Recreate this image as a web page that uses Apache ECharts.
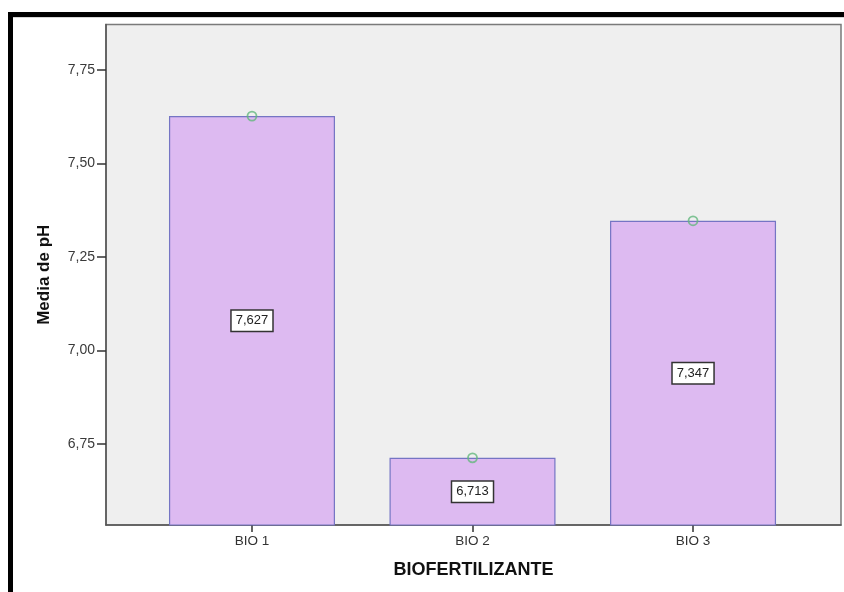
<!DOCTYPE html>
<html>
<head>
<meta charset="utf-8">
<script src="https://cdn.jsdelivr.net/npm/echarts@6/dist/echarts.min.js"></script>
<style>
  html, body { margin: 0; padding: 0; background: #fff; }
  #chart { width: 844px; height: 592px; }
</style>
</head>
<body>
<div id="chart"></div>
<script>
// Mean soil pH per biofertilizer treatment
const categories = ['BIO 1', 'BIO 2', 'BIO 3'];
const meanPH = [7.627, 6.713, 7.347];
const yTicks = [6.75, 7.00, 7.25, 7.50, 7.75];

const comma = (v, d) => v.toFixed(d).replace('.', ',');
const positions = categories.map((_, i) => i);
const barData = meanPH.map((v, i) => [positions[i], v]);

const chart = echarts.init(document.getElementById('chart'), null, { renderer: 'canvas' });

chart.setOption({
  animation: false,
  backgroundColor: '#ffffff',
  graphic: [
    // outer frame (top and left rules)
    { type: 'rect', shape: { x: 8, y: 12, width: 836, height: 5 }, style: { fill: '#000' }, z: 100 },
    { type: 'rect', shape: { x: 8, y: 12, width: 5, height: 580 }, style: { fill: '#000' }, z: 100 },
    { type: 'rect', shape: { x: 13, y: 17, width: 831, height: 1 }, style: { fill: '#d5d5d5' }, z: 100 }
  ],
  grid: {
    left: 106, top: 24.5, right: 3, bottom: 67,
    show: true,
    backgroundColor: '#efefef',
    borderColor: '#7a7a7a',
    borderWidth: 1.5
  },
  xAxis: {
    type: 'value',
    min: -0.662,
    max: 2.671,
    name: 'BIOFERTILIZANTE',
    nameLocation: 'middle',
    nameGap: 36,
    nameTextStyle: { fontFamily: 'Liberation Sans, Arial', fontWeight: 'bold', fontSize: 18, color: '#111' },
    axisLine: { show: true, onZero: false, lineStyle: { color: '#555', width: 1.5 } },
    axisTick: { show: true, customValues: positions, length: 7, lineStyle: { color: '#333', width: 1.5 } },
    axisLabel: {
      customValues: positions,
      formatter: v => categories[Math.round(v)] || '',
      fontFamily: 'Liberation Sans, Arial', fontSize: 13.5, color: '#333', margin: 9
    },
    splitLine: { show: false }
  },
  yAxis: {
    type: 'value',
    min: 6.5334,
    max: 7.872,
    name: 'Media de pH',
    nameLocation: 'middle',
    nameGap: 53,
    nameTextStyle: { fontFamily: 'Liberation Sans, Arial', fontWeight: 'bold', fontSize: 17, color: '#111' },
    axisLine: { show: true, onZero: false, lineStyle: { color: '#555', width: 1.5 } },
    axisTick: { show: true, customValues: yTicks, length: 9, lineStyle: { color: '#333', width: 1.5 } },
    axisLabel: {
      customValues: yTicks,
      formatter: v => comma(v, 2),
      fontFamily: 'Liberation Sans, Arial', fontSize: 14, color: '#3a3a3a', margin: 11
    },
    splitLine: { show: false }
  },
  series: [
    {
      type: 'bar',
      data: barData,
      barWidth: 166,
      itemStyle: { color: '#ddbaf1', borderColor: '#7575c4', borderWidth: 1.2 },
      label: {
        show: true,
        position: 'inside',
        formatter: p => comma(p.value[1], 3),
        fontFamily: 'Liberation Sans, Arial',
        fontSize: 13,
        color: '#222',
        backgroundColor: '#ffffff',
        borderColor: '#333',
        borderWidth: 1.5,
        padding: [4, 4, 3, 4]
      }
    },
    {
      type: 'scatter',
      data: barData,
      symbol: 'circle',
      symbolSize: 9,
      itemStyle: { color: 'rgba(0,0,0,0)', borderColor: '#64b87e', borderWidth: 1.8 },
      z: 5
    }
  ]
});
</script>
</body>
</html>
